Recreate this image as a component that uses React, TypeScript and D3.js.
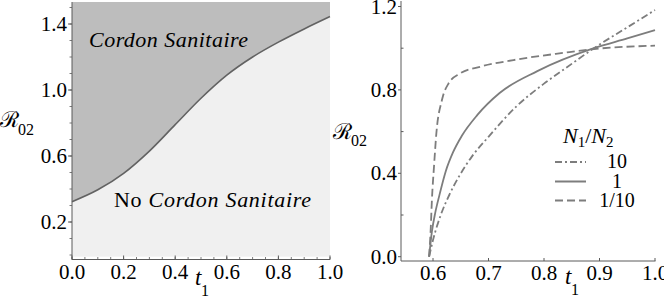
import React from "react";
import * as d3 from "d3";

// ---------- Left panel data: boundary R02(t1) ----------
const boundaryT = [0, 0.1, 0.2, 0.3, 0.4, 0.5, 0.6, 0.7, 0.8, 0.9, 1.0];
const boundaryR = [0.323, 0.395, 0.495, 0.63, 0.79, 0.95, 1.09, 1.2, 1.29, 1.37, 1.445];

const leftXTicks = [0, 0.2, 0.4, 0.6, 0.8, 1.0];
const leftYTicks = [0.2, 0.6, 1.0, 1.4];

// ---------- Right panel data ----------
const tenT = [0.593, 0.6, 0.614, 0.63, 0.648, 0.67, 0.7, 0.75, 0.8, 0.842, 0.89, 0.95, 1.0];
const tenR = [0.0, 0.08, 0.2, 0.3, 0.39, 0.48, 0.575, 0.72, 0.83, 0.91, 1.0, 1.1, 1.183];

const oneT = [0.593, 0.598, 0.604, 0.612, 0.623, 0.636, 0.652, 0.68, 0.72, 0.788, 0.89, 0.95, 1.0];
const oneR = [0.0, 0.12, 0.21, 0.3, 0.41, 0.5, 0.58, 0.68, 0.785, 0.89, 1.0, 1.047, 1.087];

const tenthT = [0.593, 0.596, 0.598, 0.602, 0.606, 0.616, 0.628, 0.649, 0.685, 0.745, 0.836, 0.89, 1.0];
const tenthR = [0.0, 0.14, 0.27, 0.44, 0.59, 0.75, 0.831, 0.879, 0.911, 0.943, 0.978, 0.996, 1.012];

const rightXTicks = [0.6, 0.7, 0.8, 0.9, 1.0];
const rightYTicks = [0.0, 0.4, 0.8, 1.2];
const rightYMinor = [0.2, 0.6, 1.0];

const legendLabels = ["10", "1", "1/10"];

const SERIF = "Liberation Serif";
const CURVE = "#7d7d7d";
const AXIS = "#5a5a5a";

const T = (props: any) => <text fontFamily={SERIF} {...props} />;

export default function App() {
  // Left scales
  const xL = d3.scaleLinear().domain([0, 1]).range([72, 330]);
  const yL = d3.scaleLinear().domain([0, 1.4]).range([255, 24]);
  const yTopL = 1.533;
  const yBotL = -0.01;

  const bPts = boundaryT.map((t, i) => [t, boundaryR[i]] as [number, number]);
  const bLine = d3
    .line<[number, number]>()
    .x((d) => xL(d[0]))
    .y((d) => yL(d[1]))
    .curve(d3.curveMonotoneX)(bPts)!;
  const bArea = d3
    .area<[number, number]>()
    .x((d) => xL(d[0]))
    .y0(() => yL(yTopL))
    .y1((d) => yL(d[1]))
    .curve(d3.curveMonotoneX)(bPts)!;

  const leftMinorY = d3.range(0, 16).map((i) => i / 10);
  const leftMinorX = d3.range(0, 21).map((i) => i / 20);

  // Right scales
  const xR = d3.scaleLinear().domain([0.6, 1.0]).range([433, 655]);
  const yR = d3.scaleLinear().domain([0, 1.2]).range([256.7, 6.5]);
  const xRLeft = 401;
  const yRBottom = 261;

  const mk = (ts: number[], rs: number[]) =>
    d3
      .line<number>()
      .x((_, i) => xR(ts[i]))
      .y((d) => yR(d))
      .curve(d3.curveMonotoneX)(rs)!;

  const series = [
    { d: mk(tenT, tenR), dash: "7,3,2,3" },
    { d: mk(oneT, oneR), dash: "none" },
    { d: mk(tenthT, tenthR), dash: "8,4" },
  ];

  const legendY = [162, 181.5, 200.5];

  return (
    <svg
      width={664}
      height={303}
      style={{ position: "absolute", left: 0, top: 0, background: "#fff" }}
    >
      {/* ---------- LEFT PANEL ---------- */}
      <rect
        x={xL(0)}
        y={yL(yTopL)}
        width={xL(1) - xL(0)}
        height={yL(yBotL) - yL(yTopL)}
        fill="#f0f0f0"
      />
      <path d={bArea} fill="#bdbdbd" />
      <path d={bLine} fill="none" stroke="#626262" strokeWidth={1.6} />

      {/* left axis */}
      <line x1={xL(0)} x2={xL(0)} y1={yL(yTopL)} y2={259.5} stroke={AXIS} strokeWidth={1} />
      {leftMinorY.map((v) => (
        <line
          key={"lmy" + v}
          x1={xL(0) - 2.5}
          x2={xL(0)}
          y1={yL(v)}
          y2={yL(v)}
          stroke={AXIS}
          strokeWidth={0.8}
        />
      ))}
      {leftYTicks.map((v) => (
        <g key={"ly" + v}>
          <line x1={xL(0) - 4} x2={xL(0)} y1={yL(v)} y2={yL(v)} stroke={AXIS} strokeWidth={1} />
          <T x={67} y={yL(v) + 7} fontSize={21} textAnchor="end">
            {d3.format(".1f")(v)}
          </T>
        </g>
      ))}
      {/* bottom axis */}
      <line x1={xL(0)} x2={xL(1)} y1={259.5} y2={259.5} stroke={AXIS} strokeWidth={1} />
      {leftMinorX.map((v) => (
        <line
          key={"lmx" + v}
          x1={xL(v)}
          x2={xL(v)}
          y1={259.5}
          y2={257}
          stroke={AXIS}
          strokeWidth={0.8}
        />
      ))}
      {leftXTicks.map((v) => (
        <g key={"lx" + v}>
          <line x1={xL(v)} x2={xL(v)} y1={259.5} y2={255.5} stroke={AXIS} strokeWidth={1} />
          <T x={xL(v)} y={279} fontSize={21} textAnchor="middle">
            {d3.format(".1f")(v)}
          </T>
        </g>
      ))}

      {/* region labels */}
      <T x={89} y={46.5} fontSize={22} fontStyle="italic" textLength={159} lengthAdjust="spacing">
        Cordon Sanitaire
      </T>
      <T x={114} y={206.5} fontSize={22} textLength={197} lengthAdjust="spacing">
        No{" "}
        <tspan fontStyle="italic">Cordon Sanitaire</tspan>
      </T>

      {/* left axis titles */}
      <T x={0} y={127} fontSize={22}>
        ℛ
      </T>
      <T x={18} y={135} fontSize={16}>02</T>
      <T x={195} y={285} fontSize={23} fontStyle="italic">t</T>
      <T x={201} y={296} fontSize={16}>1</T>

      {/* ---------- RIGHT PANEL ---------- */}
      <line x1={xRLeft} x2={xRLeft} y1={1} y2={yRBottom} stroke={AXIS} strokeWidth={1} />
      <line x1={xRLeft} x2={655.5} y1={yRBottom} y2={yRBottom} stroke={AXIS} strokeWidth={1} />
      {rightYTicks.map((v) => (
        <g key={"ry" + v}>
          <line x1={xRLeft - 3} x2={xRLeft} y1={yR(v)} y2={yR(v)} stroke={AXIS} strokeWidth={1} />
          <T x={397} y={yR(v) + 7} fontSize={21} textAnchor="end">
            {d3.format(".1f")(v)}
          </T>
        </g>
      ))}
      {rightYMinor.map((v) => (
        <line
          key={"rym" + v}
          x1={xRLeft}
          x2={xRLeft + 2.5}
          y1={yR(v)}
          y2={yR(v)}
          stroke={AXIS}
          strokeWidth={1}
        />
      ))}
      {rightXTicks.map((v) => (
        <g key={"rx" + v}>
          <line x1={xR(v)} x2={xR(v)} y1={yRBottom} y2={yRBottom - 3} stroke={AXIS} strokeWidth={1} />
          <T x={xR(v)} y={280} fontSize={21} textAnchor="middle">
            {d3.format(".1f")(v)}
          </T>
        </g>
      ))}

      {series.map((s, i) => (
        <path
          key={"s" + i}
          d={s.d}
          fill="none"
          stroke={CURVE}
          strokeWidth={1.8}
          strokeDasharray={s.dash}
        />
      ))}

      {/* right axis titles */}
      <T x={333} y={139} fontSize={22}>
        ℛ
      </T>
      <T x={351} y={146} fontSize={16}>02</T>
      <T x={565} y={284} fontSize={23} fontStyle="italic">t</T>
      <T x={571} y={295} fontSize={16}>1</T>

      {/* legend */}
      <T x={563} y={143} fontSize={22}>
        <tspan fontStyle="italic">N</tspan>
        <tspan fontSize={15} dy={4}>1</tspan>
        <tspan dy={-4}>/</tspan>
        <tspan fontStyle="italic">N</tspan>
        <tspan fontSize={15} dy={4}>2</tspan>
      </T>
      {legendLabels.map((lab, i) => (
        <g key={"lg" + i}>
          <line
            x1={555}
            x2={586}
            y1={legendY[i]}
            y2={legendY[i]}
            stroke={CURVE}
            strokeWidth={2}
            strokeDasharray={series[i].dash}
          />
          <T x={617} y={legendY[i] + 6} fontSize={20} textAnchor="middle">
            {lab}
          </T>
        </g>
      ))}
    </svg>
  );
}
